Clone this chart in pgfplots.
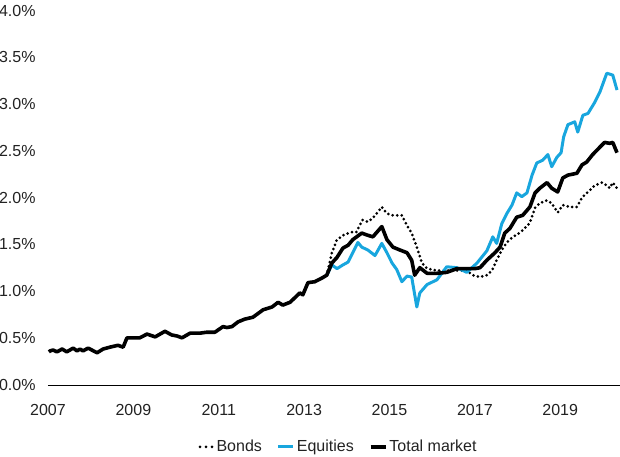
\documentclass[border=0pt]{standalone}
\usepackage{pgfplots}
\pgfplotsset{compat=1.18}
\usepackage{fontspec}
\setmainfont{Liberation Sans}
\definecolor{eqblue}{RGB}{24,166,222}
\definecolor{txt}{RGB}{34,34,34}

\begin{document}
\begin{tikzpicture}
\begin{axis}[
  scale only axis,
  width=572pt, height=374pt,
  xmin=2007, xmax=2020.4,
  ymin=0, ymax=4,
  axis x line=bottom, axis y line=left,
  axis line style={-},
  x axis line style={line width=1.2pt},
  y axis line style={draw=none},
  tick style={draw=none},
  xtick={2007,2009,2011,2013,2015,2017,2019},
  xticklabels={2007,2009,2011,2013,2015,2017,2019},
  ytick={0,0.5,1,1.5,2,2.5,3,3.5,4},
  yticklabels={0.0\%,0.5\%,1.0\%,1.5\%,2.0\%,2.5\%,3.0\%,3.5\%,4.0\%},
  ticklabel style={font=\fontsize{16}{19}\selectfont, text=txt},
  yticklabel style={anchor=west, inner sep=0pt, xshift=-47pt, yshift=1pt},
  xticklabel style={anchor=north, inner sep=0pt, yshift=-16pt},
  legend style={draw=none, fill=none, at={(0.508,-0.164)}, anchor=center,
    legend columns=-1, font=\fontsize{16}{19}\selectfont, text=txt,
    /tikz/every even column/.append style={column sep=13pt}},
  legend image code/.code={\draw[#1] (0pt,0pt) -- (15pt,0pt);},
  line join=round,
]
% Bonds
\addplot[black, line width=3pt, line cap=round, dash pattern=on 0pt off 4.5pt,
  legend image code/.code={\draw[black, line width=3pt, line cap=round,
    dash pattern=on 0pt off 6pt] (1pt,0pt) -- (14pt,0pt);}]
coordinates {
(2013.53,1.18) (2013.65,1.42) (2013.77,1.56) (2013.93,1.61) (2014.10,1.64)
(2014.22,1.64) (2014.37,1.77) (2014.49,1.75) (2014.61,1.79) (2014.82,1.91)
(2014.94,1.84) (2015.08,1.82) (2015.29,1.82) (2015.41,1.71) (2015.52,1.63)
(2015.64,1.48) (2015.76,1.31) (2015.88,1.25) (2016.11,1.23) (2016.34,1.23)
(2016.58,1.23) (2016.81,1.23) (2016.95,1.18) (2017.12,1.16) (2017.28,1.18)
(2017.40,1.23) (2017.51,1.34) (2017.63,1.45) (2017.75,1.53) (2017.89,1.59)
(2017.98,1.61) (2018.12,1.66) (2018.29,1.74) (2018.41,1.90) (2018.52,1.95)
(2018.69,1.98) (2018.80,1.95) (2018.94,1.85) (2019.06,1.93) (2019.22,1.91)
(2019.39,1.91) (2019.51,2.01) (2019.65,2.07) (2019.81,2.14) (2019.98,2.17)
(2020.09,2.14) (2020.16,2.11) (2020.23,2.17) (2020.33,2.11)
};
\addlegendentry{Bonds}
% Equities
\addplot[eqblue, line width=3pt]
coordinates {
(2013.53,1.18) (2013.65,1.29) (2013.77,1.25) (2013.91,1.29) (2014.03,1.32)
(2014.14,1.42) (2014.26,1.53) (2014.35,1.48) (2014.49,1.45) (2014.66,1.39)
(2014.82,1.52) (2014.94,1.42) (2015.06,1.31) (2015.17,1.24) (2015.29,1.11)
(2015.41,1.17) (2015.52,1.16) (2015.64,0.84) (2015.71,0.99) (2015.88,1.08)
(2016.11,1.13) (2016.34,1.27) (2016.58,1.26) (2016.81,1.21) (2017.05,1.31)
(2017.28,1.44) (2017.42,1.59) (2017.51,1.52) (2017.63,1.73) (2017.75,1.84)
(2017.87,1.93) (2017.98,2.06) (2018.10,2.02) (2018.22,2.06) (2018.34,2.25)
(2018.45,2.38) (2018.59,2.41) (2018.71,2.47) (2018.80,2.34) (2018.92,2.44)
(2019.02,2.49) (2019.08,2.66) (2019.18,2.79) (2019.34,2.82) (2019.41,2.71)
(2019.53,2.89) (2019.65,2.91) (2019.81,3.03) (2019.93,3.14) (2020.09,3.34)
(2020.23,3.32) (2020.33,3.16)
};
\addlegendentry{Equities}
% Total market
\addplot[black, line width=3.6pt]
coordinates {
(2007.02,0.36) (2007.05,0.37) (2007.12,0.38) (2007.21,0.36) (2007.33,0.39)
(2007.44,0.36) (2007.59,0.40) (2007.68,0.37) (2007.75,0.39) (2007.82,0.37)
(2007.94,0.40) (2008.15,0.35) (2008.29,0.39) (2008.45,0.41) (2008.64,0.43)
(2008.76,0.41) (2008.85,0.51) (2008.99,0.51) (2009.15,0.51) (2009.32,0.55)
(2009.51,0.52) (2009.74,0.58) (2009.90,0.54) (2010.02,0.53) (2010.14,0.51)
(2010.33,0.56) (2010.56,0.56) (2010.72,0.57) (2010.91,0.57) (2011.10,0.63)
(2011.19,0.62) (2011.31,0.63) (2011.45,0.68) (2011.61,0.71) (2011.80,0.73)
(2012.04,0.81) (2012.25,0.84) (2012.39,0.89) (2012.50,0.86) (2012.67,0.89)
(2012.90,0.99) (2012.97,0.97) (2013.09,1.10) (2013.25,1.11) (2013.42,1.15)
(2013.53,1.18) (2013.65,1.31) (2013.77,1.37) (2013.91,1.47) (2014.03,1.50)
(2014.14,1.56) (2014.35,1.63) (2014.47,1.61) (2014.61,1.59) (2014.82,1.70)
(2014.94,1.56) (2015.08,1.48) (2015.24,1.45) (2015.41,1.42) (2015.52,1.34)
(2015.59,1.18) (2015.71,1.26) (2015.88,1.20) (2016.11,1.20) (2016.34,1.21)
(2016.58,1.25) (2016.81,1.25) (2017.00,1.25) (2017.12,1.26) (2017.28,1.34)
(2017.47,1.42) (2017.59,1.48) (2017.70,1.63) (2017.82,1.68) (2017.98,1.80)
(2018.12,1.82) (2018.29,1.91) (2018.41,2.06) (2018.52,2.11) (2018.69,2.17)
(2018.80,2.11) (2018.94,2.07) (2019.06,2.22) (2019.18,2.25) (2019.39,2.27)
(2019.51,2.36) (2019.62,2.39) (2019.76,2.47) (2019.93,2.55) (2020.04,2.60)
(2020.16,2.59) (2020.23,2.60) (2020.33,2.49)
};
\addlegendentry{Total market}
\end{axis}
\pgfresetboundingbox
\path (-48pt,-70.5pt) rectangle (572pt,385.5pt);
\end{tikzpicture}
\end{document}
